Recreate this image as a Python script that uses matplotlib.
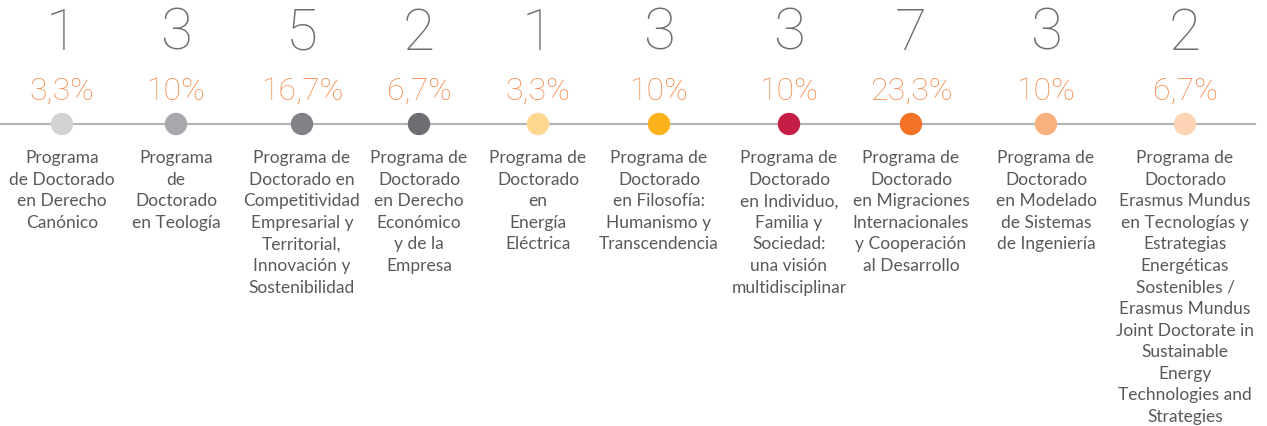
import matplotlib.pyplot as plt

# data
counts = [1, 3, 5, 2, 1, 3, 3, 7, 3, 2]
percents = ["3,3%", "10%", "16,7%", "6,7%", "3,3%", "10%", "10%", "23,3%", "10%", "6,7%"]
programs = [
    "Programa\nde Doctorado\nen Derecho\nCanónico",
    "Programa\nde\nDoctorado\nen Teología",
    "Programa de\nDoctorado en\nCompetitividad\nEmpresarial y\nTerritorial,\nInnovación y\nSostenibilidad",
    "Programa de\nDoctorado\nen Derecho\nEconómico\ny de la\nEmpresa",
    "Programa de\nDoctorado\nen\nEnergía\nEléctrica",
    "Programa de\nDoctorado\nen Filosofía:\nHumanismo y\nTranscendencia",
    "Programa de\nDoctorado\nen Individuo,\nFamilia y\nSociedad:\nuna visión\nmultidisciplinar",
    "Programa de\nDoctorado\nen Migraciones\nInternacionales\ny Cooperación\nal Desarrollo",
    "Programa de\nDoctorado\nen Modelado\nde Sistemas\nde Ingeniería",
    "Programa de\nDoctorado\nErasmus Mundus\nen Tecnologías y\nEstrategias\nEnergéticas\nSostenibles /\nErasmus Mundus\nJoint Doctorate in\nSustainable\nEnergy\nTechnologies and\nStrategies",
]
dot_colors = ["#d1d2d4", "#a7a9ac", "#808285", "#6d6e71", "#fdd88e",
              "#fbb21c", "#c41e47", "#f47125", "#f9b17f", "#fdd4b5"]

# layout (pixel positions of the columns)
xpos = [62, 176, 302, 419, 538, 659, 789, 911, 1046, 1185]

fig = plt.figure(figsize=(12.67, 4.26), dpi=100)
ax = fig.add_axes([0, 0, 1, 1])
ax.set_xlim(0, 1267)
ax.set_ylim(426, 0)
ax.axis("off")

ax.plot([0, 1255], [124, 124], color="#b3b3b3", lw=1.5, zorder=1)
ax.scatter(xpos, [124] * len(xpos), s=260, c=dot_colors, zorder=2, linewidths=0)

for x, n, p, lab in zip(xpos, counts, percents, programs):
    ax.text(x, 34, str(n), ha="center", va="center", fontsize=42,
            family="Roboto", fontweight="light", color="#6d6e71")
    ax.text(x, 91, p, ha="center", va="center", fontsize=23,
            family="Roboto", fontweight="light", color="#f58a4b")
    ax.text(x, 150, lab, ha="center", va="top", fontsize=12.5,
            family="Lato", color="#58595b", linespacing=1.43)

fig.savefig("out.png", dpi=100)
